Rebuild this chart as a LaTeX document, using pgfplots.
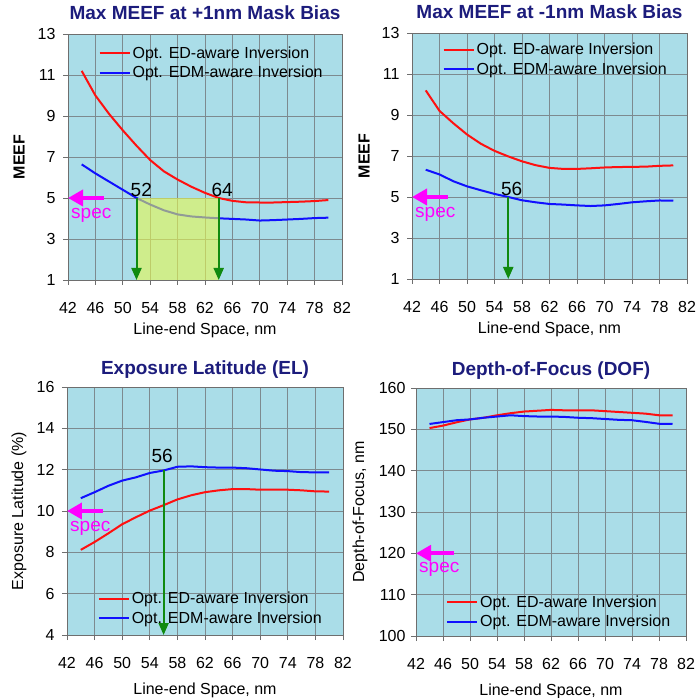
\documentclass[border=0pt]{standalone}
\usepackage{fontspec}
\setmainfont{Liberation Sans}
\usepackage{pgfplots}
\pgfplotsset{compat=1.18}
\usetikzlibrary{arrows.meta}
\definecolor{bgc}{HTML}{AADDE8}
\definecolor{gridc}{HTML}{7D8A8F}
\definecolor{axc}{HTML}{6E6E6E}
\definecolor{titc}{HTML}{1C1C7C}
\definecolor{cRed}{HTML}{FF1010}
\definecolor{cBlue}{HTML}{1010FF}
\definecolor{cSpec}{HTML}{FF00FF}
\definecolor{cGreen}{HTML}{108A10}
\definecolor{cBox}{HTML}{E8F850}

\newcommand{\fs}[1]{\fontsize{#1}{#1}\selectfont}

\tikzset{
  spec/.style={-{Triangle[length=15pt,width=16pt]}, cSpec, line width=4pt},
  garrow/.style={-{Triangle[length=12pt,width=10pt]}, cGreen, line width=2pt},
}

\pgfplotsset{
  panel/.style={
    scale only axis, anchor=south west, clip=false,
    xmin=42, xmax=82, xtick={42,46,...,82},
    grid=major, grid style={draw=gridc, line width=0.7pt},
    axis background/.style={fill=bgc},
    axis line style={draw=axc, line width=0.8pt},
    tick style={draw=axc, line width=0.7pt},
    tick align=outside, major tick length=5pt, tick pos=left,
    ticklabel style={font=\fs{16}},
    xticklabel style={yshift=-14pt},
    yticklabel style={xshift=-4pt},
    /pgf/number format/assume math mode=true,
    label style={font=\fs{16}},
    xlabel style={at={(axis description cs:0.5,0)}, anchor=center, yshift=-50pt},
    ylabel style={at={(axis description cs:0,0.5)}, anchor=center, yshift=49pt},
    title style={font=\bfseries\fs{19}, text=titc},
    xlabel={Line-end Space, nm},
    legend style={draw=none, fill=none, font=\fs{16}, anchor=north west,
                  legend cell align=left, row sep=2.5pt},
    legend image code/.code={\draw[##1] (0pt,0pt) -- (30pt,0pt);},
    every axis plot/.append style={line width=2pt, no marks},
  },
}

\begin{document}
\begin{tikzpicture}
\useasboundingbox (0,0) rectangle (696pt,698pt);

% ---- top left
\begin{axis}[panel, at={(68pt,418pt)}, width=274pt, height=246pt,
  ymin=1, ymax=13, ytick={1,3,...,13},
  title={Max MEEF at +1nm Mask Bias}, title style={yshift=5pt},
  ylabel={\bfseries MEEF},
  legend style={at={(0.1,0.965)}}]
  \addplot[cRed] coordinates {(44,11.2)(46,10.0)(48,9.1)(50,8.3)(52,7.55)(54,6.85)(56,6.3)(58,5.9)(60,5.55)(62,5.25)(64,5.0)(66,4.86)(68,4.79)(70,4.78)(72,4.78)(74,4.8)(76,4.82)(78,4.85)(80,4.9)};
  \addplot[cBlue] coordinates {(44,6.64)(46,6.2)(48,5.8)(50,5.4)(52,5.0)(54,4.68)(56,4.4)(58,4.2)(60,4.1)(62,4.05)(64,4.01)(66,3.98)(68,3.95)(70,3.9)(72,3.92)(74,3.95)(76,3.98)(78,4.02)(80,4.04)};
  \legend{Opt. ED-aware Inversion, Opt. EDM-aware Inversion}
  \fill[cBox, opacity=0.6] (axis cs:52,1) rectangle (axis cs:64,5);
  \draw[garrow] (axis cs:52,5) -- (axis cs:52,1);
  \draw[garrow] (axis cs:64,5) -- (axis cs:64,1);
  \node[anchor=south, font=\fs{19}, inner sep=1pt] at (axis cs:52.7,5) {52};
  \node[anchor=south, font=\fs{19}, inner sep=1pt] at (axis cs:64.5,5) {64};
  \draw[spec] (axis cs:47.2,5) -- (axis cs:42,5);
  \node[anchor=west, text=cSpec, font=\fs{19}, inner sep=0pt] at ([xshift=3pt,yshift=-17pt]axis cs:42,5) {spec};
\end{axis}

% ---- top right
\begin{axis}[panel, at={(412pt,419pt)}, width=275pt, height=246pt,
  ymin=1, ymax=13, ytick={1,3,...,13},
  title={Max MEEF at -1nm Mask Bias}, title style={yshift=5pt},
  ylabel={\bfseries MEEF}, ylabel style={yshift=-1pt},
  legend style={at={(0.1,0.975)}}]
  \addplot[cRed] coordinates {(44,10.2)(46,9.2)(48,8.6)(50,8.05)(52,7.6)(54,7.25)(56,6.98)(58,6.74)(60,6.55)(62,6.42)(64,6.37)(66,6.37)(68,6.4)(70,6.44)(72,6.46)(74,6.47)(76,6.48)(78,6.52)(80,6.54)};
  \addplot[cBlue] coordinates {(44,6.33)(46,6.1)(48,5.77)(50,5.52)(52,5.33)(54,5.15)(56,5.0)(58,4.84)(60,4.74)(62,4.66)(64,4.63)(66,4.59)(68,4.56)(70,4.59)(72,4.66)(74,4.74)(76,4.79)(78,4.83)(80,4.82)};
  \legend{Opt. ED-aware Inversion, Opt. EDM-aware Inversion}
  \draw[garrow] (axis cs:56,5) -- (axis cs:56,1);
  \node[anchor=south, font=\fs{19}, inner sep=1pt] at (axis cs:56.5,5) {56};
  \draw[spec] (axis cs:47.2,5) -- (axis cs:42,5);
  \node[anchor=west, text=cSpec, font=\fs{19}, inner sep=0pt] at ([xshift=3pt,yshift=-17pt]axis cs:42,5) {spec};
\end{axis}

% ---- bottom left
\begin{axis}[panel, at={(67pt,63pt)}, width=276pt, height=248pt,
  ymin=4, ymax=16, ytick={4,6,...,16},
  title={Exposure Latitude (EL)}, title style={yshift=-1pt},
  xlabel style={yshift=-5pt},
  ylabel={Exposure Latitude (\%)}, ylabel style={yshift=-1pt},
  legend style={at={(0.1,0.19)}}]
  \addplot[cRed] coordinates {(44,8.12)(46,8.5)(48,8.92)(50,9.36)(52,9.7)(54,10.02)(56,10.28)(58,10.56)(60,10.76)(62,10.91)(64,11.0)(66,11.06)(68,11.06)(70,11.03)(72,11.03)(74,11.03)(76,11.0)(78,10.95)(80,10.94)};
  \addplot[cBlue] coordinates {(44,10.62)(46,10.91)(48,11.22)(50,11.47)(52,11.63)(54,11.84)(56,11.96)(58,12.14)(60,12.16)(62,12.12)(64,12.1)(66,12.1)(68,12.07)(70,12.01)(72,11.95)(74,11.93)(76,11.88)(78,11.87)(80,11.87)};
  \legend{Opt. ED-aware Inversion, Opt. EDM-aware Inversion}
  \draw[garrow] (axis cs:56,11.96) -- (axis cs:56,4);
  \node[anchor=south, font=\fs{19}, inner sep=1pt] at ([yshift=6pt]axis cs:55.8,12) {56};
  \draw[spec] (axis cs:47.2,10) -- (axis cs:42,10);
  \node[anchor=west, text=cSpec, font=\fs{19}, inner sep=0pt] at ([xshift=3pt,yshift=-17pt]axis cs:42,10) {spec};
\end{axis}

% ---- bottom right
\begin{axis}[panel, at={(416pt,62pt)}, width=270pt, height=248pt,
  ymin=100, ymax=160, ytick={100,110,...,160},
  title={Depth-of-Focus (DOF)}, title style={yshift=-1pt},
  xlabel style={yshift=-5pt},
  yticklabel style={xshift=2pt},
  ylabel={Depth-of-Focus, nm}, ylabel style={yshift=7pt},
  legend style={at={(0.1,0.18)}}]
  \addplot[cRed] coordinates {(44,150.3)(46,150.9)(48,151.7)(50,152.4)(52,152.8)(54,153.4)(56,153.9)(58,154.3)(60,154.5)(62,154.7)(64,154.6)(66,154.6)(68,154.6)(70,154.4)(72,154.2)(74,154.0)(76,153.8)(78,153.4)(80,153.4)};
  \addplot[cBlue] coordinates {(44,151.3)(46,151.75)(48,152.2)(50,152.4)(52,152.8)(54,153.1)(56,153.4)(58,153.2)(60,153.1)(62,153.1)(64,153.0)(66,152.8)(68,152.7)(70,152.5)(72,152.3)(74,152.2)(76,151.8)(78,151.35)(80,151.3)};
  \legend{Opt. ED-aware Inversion, Opt. EDM-aware Inversion}
  \draw[spec] (axis cs:47.7,120) -- (axis cs:42,120);
  \node[anchor=west, text=cSpec, font=\fs{19}, inner sep=0pt] at ([xshift=3pt,yshift=-16pt]axis cs:42,120) {spec};
\end{axis}
\end{tikzpicture}
\end{document}
